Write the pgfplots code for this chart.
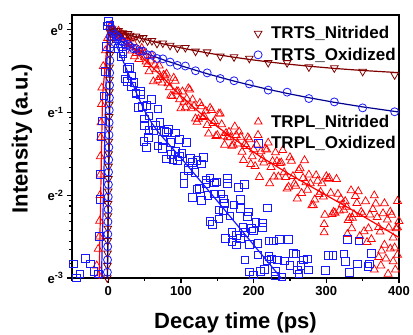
\documentclass[border=0pt]{standalone}
\usepackage{pgfplots}
\pgfplotsset{compat=1.18}
\usepackage{fontspec}
\setmainfont{Liberation Sans}
\definecolor{wine}{RGB}{128,0,0}
\definecolor{navyb}{RGB}{0,0,140}
\definecolor{pblue}{RGB}{25,25,255}
\definecolor{pred}{RGB}{255,0,0}
\pgfplotsset{
  commonax/.style={
    at={(0,0)}, anchor=south west,
    scale only axis, width=327pt, height=263pt,
    xmin=-50, xmax=400, ymin=-3, ymax=0.18,
  },
  lgd/.style={legend cell align=left,
    legend style={draw=none, fill=none, inner sep=1pt, row sep=3.5pt,
      font=\bfseries\fontsize{17}{19}\selectfont,
      /tikz/every odd column/.append style={column sep=7pt}}},
}
\begin{document}
\begin{tikzpicture}
\useasboundingbox (-72pt,-57pt) rectangle (341pt,278pt);
\begin{axis}[commonax, lgd,
  axis line style={line width=1.3pt},
  xtick={0,100,200,300,400}, minor xtick={-50,50,150,250,350},
  ytick={-3,-2,-1,0},
  yticklabels={e\textsuperscript{-3},e\textsuperscript{-2},e\textsuperscript{-1},e\textsuperscript{0}},
  minor ytick={0.08,-0.06,-0.13,-0.22,-0.32,-0.43,-0.56,-0.66,-0.82,-1.06,-1.13,-1.22,-1.32,-1.43,-1.56,-1.66,-1.82,-2.06,-2.13,-2.22,-2.32,-2.43,-2.56,-2.66,-2.82},
  tick align=outside, xtick pos=bottom, ytick pos=left,
  major tick length=5pt, minor tick length=3pt,
  every tick/.style={line width=1.1pt, black},
  /pgf/number format/assume math mode=true,
  ticklabel style={font=\bfseries\fontsize{13}{15}\selectfont},
  xlabel={Decay time (ps)}, ylabel={Intensity (a.u.)},
  label style={font=\bfseries\fontsize{22}{26}\selectfont},
  xlabel style={at={(axis description cs:0.5,-0.193)}, anchor=base},
  ylabel style={at={(axis description cs:-0.153,0.53)}, anchor=center},
  legend style={at={(axis description cs:1.0,0.968)}, anchor=north east},
]
% TRPL_Nitrided triangles
\addplot[only marks, mark=triangle, mark size=4.6pt, color=pred, mark options={line width=0.75pt}, forget plot] coordinates {
(-16,-2.85)(-14,-2.65)(-13,-2.97)(-12.5,-2.5)(-12,-2.31)(-11.5,-2.0)(-11,-1.75)(-11,-1.53)(-10.5,-1.3)(-10,-1.12)(-9.5,-0.9)(-9,-0.7)(-7,-0.44)(-4,-0.25)(-1,-0.1)(2,0.04)(4,0.06)
(6,0.01)(10,-0.065)(14,-0.012)(18,-0.095)(22,-0.092)(26,-0.204)(30,-0.173)(34,-0.149)(38,-0.283)(42,-0.355)(46,-0.218)(50,-0.332)(54,-0.416)(58,-0.373)(62,-0.624)(66,-0.479)(70,-0.434)(74,-0.639)(78,-0.554)(82,-0.649)(86,-0.795)(90,-0.581)(94,-0.746)(98,-0.842)(102,-0.746)(106,-0.937)(110,-0.708)(114,-0.949)(118,-0.92)(122,-1.114)(126,-0.885)(130,-1.057)(134,-0.981)(138,-1.255)(142,-0.971)(146,-1.103)(150,-1.274)(154,-1.014)(158,-1.287)(162,-1.248)(166,-1.235)(170,-1.404)(174,-1.17)(178,-1.375)(182,-1.294)(186,-1.577)(190,-1.406)(194,-1.325)(198,-1.531)(202,-1.649)(206,-1.272)(210,-1.471)(214,-1.605)(218,-1.45)(222,-1.856)(226,-1.589)(230,-1.483)(234,-1.776)(238,-1.606)(242,-1.723)(246,-1.921)(250,-1.542)(254,-1.77)(258,-1.886)(262,-1.698)(266,-1.974)(270,-1.578)(274,-1.934)(278,-1.858)(282,-2.119)(286,-1.759)(290,-1.988)(294,-1.856)(298,-2.237)(302,-1.801)(306,-1.973)(310,-2.202)(314,-1.804)(318,-2.185)(322,-2.11)(326,-2.073)(330,-2.302)(334,-1.942)(338,-2.228)(342,-2.096)(346,-2.496)(350,-2.228)(354,-2.073)(358,-2.402)(362,-2.532)(366,-2.003)(370,-2.266)(374,-2.441)(378,-2.22)(382,-2.768)(386,-2.393)(390,-2.238)(394,-2.633)(398,-2.39)
(8,-0.02)(16,-0.093)(24,-0.076)(32,-0.252)(40,-0.246)(48,-0.264)(56,-0.503)(64,-0.421)(72,-0.571)(80,-0.531)(88,-0.803)(96,-0.744)(104,-0.871)(112,-0.723)(120,-1.073)(128,-0.926)(136,-1.151)(144,-1.128)(152,-1.014)(160,-1.391)(168,-1.30)(176,-1.273)(184,-1.475)(192,-1.301)(200,-1.445)(208,-1.78)(216,-1.44)(224,-1.659)(232,-1.589)(240,-1.456)(248,-1.899)(256,-1.86)(264,-1.676)(272,-1.844)(280,-2.124)(288,-1.826)(296,-2.018)(304,-1.792)(312,-2.212)(320,-2.043)(328,-2.14)(336,-2.275)(344,-1.954)(352,-2.436)(360,-2.236)(368,-2.102)(376,-2.671)(384,-2.295)(392,-2.513)(400,-2.312)
(12,-0.071)(20,-0.06)(28,-0.156)(36,-0.32)(44,-0.255)(52,-0.384)(60,-0.307)(68,-0.606)(76,-0.546)(84,-0.697)(92,-0.618)(100,-0.95)(108,-0.832)(116,-0.844)(124,-1.078)(132,-1.045)(140,-0.944)(148,-1.286)(156,-1.144)(164,-1.30)(172,-1.391)(180,-1.231)(188,-1.381)(196,-1.623)(204,-1.388)(212,-1.562)(220,-1.365)(228,-1.776)(236,-1.611)(244,-1.782)(252,-1.584)(260,-2.04)(268,-1.792)(276,-1.752)(284,-2.053)(292,-1.96)(300,-1.772)(308,-2.23)(316,-1.985)(324,-2.177)(332,-2.274)(340,-2.01)(348,-2.202)(356,-2.567)(364,-2.169)(372,-2.386)(380,-2.098)(388,-2.646)(396,-2.402)
(297,-2.35)(297,-2.45)(329,-2.47)(335,-2.40)(366,-2.9)(372,-2.75)(375,-2.85)(380,-2.6)(385,-2.95)(388,-2.2)(392,-2.8)(395,-2.9)(398,-2.72)(398,-2.07)
};
% TRPL_Oxidized squares
\addplot[only marks, mark=square, mark size=3.8pt, color=pblue, mark options={line width=0.75pt}, forget plot] coordinates {
(-48,-2.83)(-44,-3.0)(-39,-2.95)(-32,-2.76)(-25,-2.83)(-20,-2.92)(-14,-2.95)(-12,-2.5)(-11,-2.05)(-11,-1.75)(-10.5,-1.29)(-8,-1.1)(-6,-0.8)(-5,-0.5)(-3,-0.2)(-1,0.05)(0,0.1)
(2,0.053)(5,-0.08)(8,-0.168)(11,-0.106)(14,-0.224)(17,-0.322)(20,-0.29)(23,-0.59)(26,-0.47)(29,-0.45)(32,-0.686)(35,-0.635)(38,-0.764)(41,-0.938)(44,-0.742)(47,-0.926)(50,-1.076)(53,-0.913)(56,-1.214)(59,-0.843)(62,-1.218)(65,-1.158)(68,-1.402)(71,-1.116)(74,-1.322)(77,-1.224)(80,-1.558)(83,-1.204)(86,-1.362)(89,-1.568)(92,-1.246)(95,-1.58)(98,-1.53)(101,-1.494)(104,-1.766)(107,-1.357)(110,-1.697)(113,-1.552)(116,-2.023)(119,-1.724)(122,-1.58)(125,-1.919)(128,-2.06)(131,-1.542)(134,-1.815)(137,-2.0)(140,-1.79)(143,-2.349)(146,-1.984)(149,-1.84)(152,-2.287)(155,-1.983)(158,-2.183)(161,-2.523)(164,-1.854)(167,-2.25)(170,-2.45)(173,-2.118)(176,-2.598)(179,-1.901)(182,-2.521)(185,-2.385)(188,-2.781)(191,-2.253)(194,-2.592)(197,-2.40)(200,-2.964)(203,-2.324)(206,-2.579)(209,-2.919)(212,-2.335)(215,-2.899)(218,-2.79)(221,-2.738)(224,-3.078)(227,-2.549)(230,-2.973)(233,-2.781)(236,-3.37)(239,-2.984)(242,-2.792)(245,-3.216)(248,-3.387)
(20,-0.26)(26,-0.62)(32,-0.556)(38,-0.774)(44,-0.782)(50,-1.156)(56,-1.038)(62,-1.218)(68,-0.954)(74,-1.434)(80,-1.238)(86,-1.506)(92,-1.47)(98,-1.322)(104,-1.854)(110,-1.675)(116,-1.605)(122,-1.932)(128,-1.62)(134,-1.859)(140,-2.318)(146,-1.852)(152,-2.175)(158,-2.043)(164,-1.798)(170,-2.562)(176,-2.486)(182,-2.157)(188,-2.445)(194,-2.928)(200,-2.432)(206,-2.719)(212,-2.391)(218,-3.014)(224,-2.77)(230,-2.917)(236,-3.12)
(187,-1.87)(182,-2.05)(219,-2.15)(193,-2.2)(160,-2.1)(221,-2.55)(235,-2.53)(248,-2.53)(250,-2.85)(255,-2.7)(258,-2.71)(260,-2.9)(262,-2.95)(265,-2.85)(268,-2.78)(274,-2.77)(275,-2.9)(299,-2.91)(303,-2.73)(309,-2.73)(324,-2.71)(326,-2.8)(329,-2.53)(332,-2.93)(343,-2.83)(345,-2.55)(357,-2.86)(359,-2.83)(362,-2.7)(49,-1.35)(52,-1.42)(55,-1.3)
};
% TRPL fit lines
\addplot[pblue, line width=1.2pt, forget plot] coordinates {
(-10,-3.2)(-3,-0.6)(0,0.05)(10,-0.16)(20,-0.37)(30,-0.58)(40,-0.79)(50,-0.98)(60,-1.13)(70,-1.25)(80,-1.35)(90,-1.45)(104,-1.59)(150,-2.07)(200,-2.60)(235,-2.97)(245,-3.08)};
\addplot[pred, line width=1.2pt, forget plot] coordinates {
(-13,-3.2)(-8,-0.8)(-2,-0.2)(3,0.03)(5,0)(20,-0.10)(35,-0.22)(50,-0.36)(65,-0.49)(81,-0.63)(100,-0.80)(127,-1.01)(150,-1.17)(173,-1.32)(209,-1.53)(250,-1.75)(300,-2.0)(350,-2.25)(400,-2.51)};
% TRTS_Nitrided
\addplot[only marks, mark=triangle, mark size=4.4pt, color=wine, mark options={rotate=180, line width=0.8pt}] coordinates {
(-1.5,-3.0)(-1.3,-2.85)(-1.1,-2.7)(-0.9,-2.55)(-0.7,-2.4)(-0.5,-2.25)(-0.3,-2.1)(-0.1,-1.95)(0.1,-1.8)(0.3,-1.65)(0.5,-1.5)(0.7,-1.35)(0.9,-1.2)(1.1,-1.05)(1.3,-0.9)(1.5,-0.75)(1.7,-0.6)(1.9,-0.45)(2.1,-0.3)(2.3,-0.15)(2.6,-0.03)
(5,0.01)(8,-0.02)(11,-0.009)(14,-0.01)(17,-0.043)(20,-0.036)(23,-0.064)(27,-0.047)(30,-0.067)(34,-0.085)(38,-0.076)(43,-0.103)(48,-0.096)(54,-0.134)(60,-0.131)(67,-0.164)(75,-0.16)(85,-0.189)(95,-0.219)(106,-0.215)(120,-0.259)(136,-0.268)(154,-0.319)(173,-0.327)(194,-0.345)(220,-0.396)(246,-0.398)(276,-0.449)(311,-0.461)(350,-0.503)(394,-0.545)};
\addlegendentry{TRTS\_Nitrided}
% TRTS_Oxidized
\addplot[only marks, mark=o, mark size=4pt, color=pblue, mark options={line width=0.8pt}] coordinates {
(-1.3,-2.93)(-1.1,-2.78)(-0.9,-2.62)(-0.7,-2.47)(-0.5,-2.32)(-0.3,-2.17)(-0.1,-2.02)(0.1,-1.87)(0.3,-1.72)(0.5,-1.57)(0.7,-1.42)(0.9,-1.27)(1.1,-1.12)(1.3,-0.97)(1.5,-0.82)(1.7,-0.67)(1.9,-0.52)(2.1,-0.37)(2.3,-0.22)(2.5,-0.08)
(5,0.005)(8,-0.05)(11,-0.069)(14,-0.09)(17,-0.138)(20,-0.144)(23,-0.182)(27,-0.175)(30,-0.201)(34,-0.227)(38,-0.225)(43,-0.258)(48,-0.257)(54,-0.302)(60,-0.306)(67,-0.346)(75,-0.35)(85,-0.389)(95,-0.429)(106,-0.437)(120,-0.494)(136,-0.52)(154,-0.588)(173,-0.615)(194,-0.653)(220,-0.728)(246,-0.753)(276,-0.83)(311,-0.871)(350,-0.943)(394,-0.99)};
\addlegendentry{TRTS\_Oxidized}
% TRTS fit lines
\addplot[wine, line width=1.2pt, forget plot] coordinates {
(-1.7,-3.2)(3,0.02)(5,0)(8,-0.008)(11,-0.017)(14,-0.025)(17,-0.033)(20,-0.041)(23,-0.049)(27,-0.059)(30,-0.067)(34,-0.077)(38,-0.086)(43,-0.098)(48,-0.110)(54,-0.124)(60,-0.137)(67,-0.152)(75,-0.169)(85,-0.189)(95,-0.208)(106,-0.228)(120,-0.252)(136,-0.278)(154,-0.305)(173,-0.331)(194,-0.357)(220,-0.387)(246,-0.413)(276,-0.439)(311,-0.466)(350,-0.491)(394,-0.514)(400,-0.517)};
\addplot[navyb, line width=1.2pt, forget plot] coordinates {
(-1.5,-3.2)(3,0.02)(5,0)(8,-0.042)(11,-0.077)(14,-0.105)(17,-0.128)(20,-0.149)(23,-0.167)(27,-0.187)(30,-0.201)(34,-0.219)(38,-0.235)(43,-0.253)(48,-0.271)(54,-0.292)(60,-0.312)(67,-0.334)(75,-0.359)(85,-0.389)(95,-0.418)(106,-0.45)(120,-0.488)(136,-0.53)(154,-0.574)(173,-0.619)(194,-0.665)(220,-0.719)(246,-0.768)(276,-0.82)(311,-0.876)(350,-0.931)(394,-0.986)(400,-0.993)};
\end{axis}
\begin{axis}[commonax, lgd, hide axis,
  legend style={at={(axis description cs:1.0,0.632)}, anchor=north east}]
\addplot[draw=none, forget plot] coordinates {(0,0)};
\addlegendimage{only marks, mark=triangle, mark size=4.4pt, color=pred, mark options={line width=0.8pt}}
\addlegendentry{TRPL\_Nitrided}
\addlegendimage{only marks, mark=square, mark size=3.8pt, color=pblue, mark options={line width=0.8pt}}
\addlegendentry{TRPL\_Oxidized}
\end{axis}
\end{tikzpicture}
\end{document}
